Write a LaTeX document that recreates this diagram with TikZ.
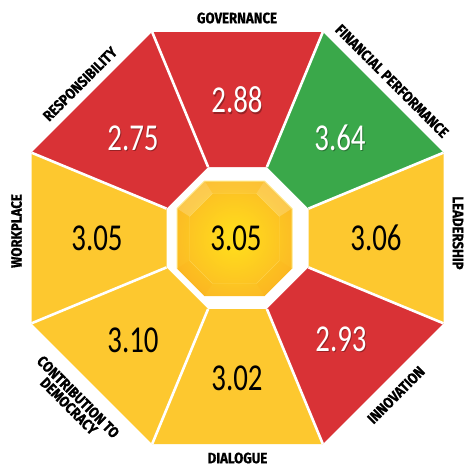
\documentclass[tikz,border=0pt]{standalone}
\usepackage{fontspec}
\usepackage{graphicx}
\newfontfamily\numfont{Carlito}
\newfontfamily\labfont[BoldFeatures={FakeBold=0.8}]{Fira Sans}
\newcommand{\numsq}[1]{\scalebox{0.76}[1]{#1}}
\newcommand{\labsq}[1]{\scalebox{0.88}[1]{#1}}
\definecolor{segred}{HTML}{D93236}
\definecolor{seggreen}{HTML}{3AA84A}
\definecolor{segyel}{HTML}{FDC82F}
\definecolor{goldin}{HTML}{FFDC1C}
\definecolor{goldmid}{HTML}{FCBF24}
\definecolor{goldout}{HTML}{F7A520}
\definecolor{goldrim}{HTML}{FFE98A}
\pgfdeclareradialshading{goldshade}{\pgfpoint{0bp}{0bp}}{color(0bp)=(goldin); color(3bp)=(goldin); color(24bp)=(goldmid); color(46bp)=(goldout); color(60bp)=(goldout)}
\begin{document}
\begin{tikzpicture}[x=1pt,y=-1pt,
  sepline/.style={white,line width=2.6pt},
  numw/.style={inner sep=0pt,text=white,font=\numfont\fontsize{38}{38}\selectfont},
  numsh/.style={inner sep=0pt,text=black,opacity=0.3,font=\numfont\fontsize{38}{38}\selectfont},
  numb/.style={inner sep=0pt,text=black,font=\numfont\fontsize{38}{38}\selectfont},
  lab/.style={inner sep=0pt,text=black,font=\labfont\bfseries\fontsize{15}{15}\selectfont}]
\useasboundingbox (0,0) rectangle (464,466);
\fill[white] (0,0) rectangle (464,466);
% outer octagon vertices
\coordinate (O0) at (443.5,323.33);
\coordinate (O1) at (322.83,444);
\coordinate (O2) at (152.17,444);
\coordinate (O3) at (31.5,323.33);
\coordinate (O4) at (31.5,152.67);
\coordinate (O5) at (152.17,32);
\coordinate (O6) at (322.83,32);
\coordinate (O7) at (443.5,152.67);
% inner hole vertices
\coordinate (I0) at (308.5,267.41);
\coordinate (I1) at (266.91,309);
\coordinate (I2) at (208.09,309);
\coordinate (I3) at (166.5,267.41);
\coordinate (I4) at (166.5,208.59);
\coordinate (I5) at (208.09,167);
\coordinate (I6) at (266.91,167);
\coordinate (I7) at (308.5,208.59);
% segments
\fill[segyel]   (O7) -- (O0) -- (I0) -- (I7) -- cycle;
\fill[segred]   (O0) -- (O1) -- (I1) -- (I0) -- cycle;
\fill[segyel]   (O1) -- (O2) -- (I2) -- (I1) -- cycle;
\fill[segyel]   (O2) -- (O3) -- (I3) -- (I2) -- cycle;
\fill[segyel]   (O3) -- (O4) -- (I4) -- (I3) -- cycle;
\fill[segred]   (O4) -- (O5) -- (I5) -- (I4) -- cycle;
\fill[segred]   (O5) -- (O6) -- (I6) -- (I5) -- cycle;
\fill[seggreen] (O6) -- (O7) -- (I7) -- (I6) -- cycle;
\foreach \k in {0,...,7} \draw[sepline] (O\k) -- (I\k);
% center gold octagon
\coordinate (G0) at (292,208.5);
\coordinate (G1) at (292,268.5);
\coordinate (G2) at (264.5,296);
\coordinate (G3) at (204.5,296);
\coordinate (G4) at (177,268.5);
\coordinate (G5) at (177,208.5);
\coordinate (G6) at (204.5,181);
\coordinate (G7) at (264.5,181);
\coordinate (H0) at (279.5,216.5);
\coordinate (H1) at (279.5,260.5);
\coordinate (H2) at (256.5,283.5);
\coordinate (H3) at (212.5,283.5);
\coordinate (H4) at (189.5,260.5);
\coordinate (H5) at (189.5,216.5);
\coordinate (H6) at (212.5,193.5);
\coordinate (H7) at (256.5,193.5);
\shade[shading=goldshade] (G0) -- (G1) -- (G2) -- (G3) -- (G4) -- (G5) -- (G6) -- (G7) -- cycle;
\fill[white,opacity=0.20] (G5) -- (G6) -- (H6) -- (H5) -- cycle;
\fill[white,opacity=0.20] (G7) -- (G0) -- (H0) -- (H7) -- cycle;
\fill[white,opacity=0.08] (G6) -- (G7) -- (H7) -- (H6) -- cycle;
\fill[orange,opacity=0.06] (G1) -- (G2) -- (H2) -- (H1) -- cycle;
\fill[orange,opacity=0.06] (G3) -- (G4) -- (H4) -- (H3) -- cycle;
\draw[goldrim,line width=0.4pt,opacity=0.4] (H0) -- (H1) -- (H2) -- (H3) -- (H4) -- (H5) -- (H6) -- (H7) -- cycle;
\draw[goldrim,line width=1pt] (G4) -- (G5) -- (G6) -- (G7) -- (G0) -- (G1);
% numbers
\node[numsh] (s-gov) at (238,101.2) {\numsq{2.88}};
\node[numw]  (n-gov) at (237,100) {\numsq{2.88}};
\node[numsh] (s-res) at (134,139.2) {\numsq{2.75}};
\node[numw]  (n-res) at (133,138) {\numsq{2.75}};
\node[numsh] (s-fin) at (341,139.2) {\numsq{3.64}};
\node[numw]  (n-fin) at (340,138) {\numsq{3.64}};
\node[numsh] (s-inn) at (342,340.2) {\numsq{2.93}};
\node[numw]  (n-inn) at (341,339) {\numsq{2.93}};
\node[numb]  (n-wor) at (97,238) {\numsq{3.05}};
\node[numb]  (n-lea) at (376,238) {\numsq{3.06}};
\node[numb]  (n-dia) at (237,378) {\numsq{3.02}};
\node[numb]  (n-con) at (133,340) {\numsq{3.10}};
\node[numb]  (n-cen) at (236,238.5) {\numsq{3.05}};
% labels
\node[lab] (l-gov) at (237,18) {\labsq{GOVERNANCE}};
\node[lab,rotate=-45] (l-fin) at (392,81) {\labsq{FINANCIAL PERFORMANCE}};
\node[lab,rotate=-90] (l-lea) at (458,233) {\labsq{LEADERSHIP}};
\node[lab,rotate=45] (l-inn) at (396,395) {\labsq{INNOVATION}};
\node[lab] (l-dia) at (237.5,458) {\labsq{DIALOGUE}};
\node[lab,rotate=-45] (l-con) at (72,403) {\labsq{\begin{tabular}{@{}c@{}}CONTRIBUTION TO\\[-2pt]DEMOCRACY\end{tabular}}};
\node[lab,rotate=90] (l-wor) at (16.5,231) {\labsq{WORKPLACE}};
\node[lab,rotate=45] (l-res) at (80,84) {\labsq{RESPONSIBILITY}};
\end{tikzpicture}
\end{document}
